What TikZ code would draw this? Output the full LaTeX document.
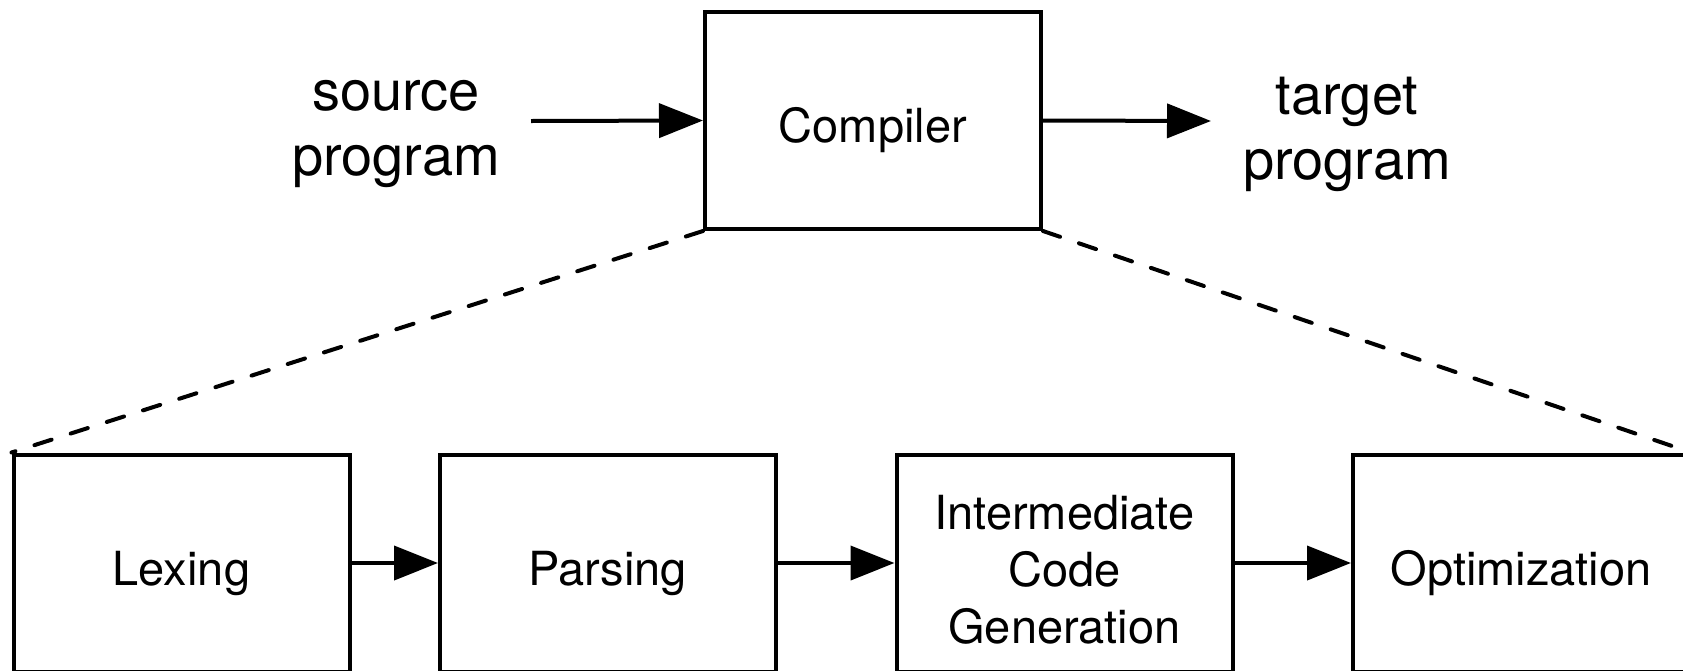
\documentclass[tikz,border=0pt]{standalone}
\usepackage{fontspec}
\setmainfont{TeX Gyre Heros}
\usetikzlibrary{arrows.meta}
\begin{document}
\begin{tikzpicture}[x=0.5pt,y=-0.5pt,
  stage/.style={draw,line width=2pt,minimum width=168pt,minimum height=108.5pt,inner sep=0pt},
  stagetext/.style={align=center,inner sep=0pt,font=\fontsize{23.5}{28.5}\selectfont},
  io/.style={align=center,inner sep=0pt,font=\fontsize{28}{32.5}\selectfont},
  flow/.style={line width=2pt,-{Triangle[length=22pt,width=17pt]}},
  zoomline/.style={line width=2pt,line cap=round,dash pattern=on 9pt off 10pt}]
\useasboundingbox (0,0) rectangle (1683,670);
\clip (0,0) rectangle (1683,670);
\node[stage] (comp) at (873,120.5) {};
\node[stagetext,anchor=base] (compT) at ([yshift=-11pt]comp.center) {Compiler};
\node[io] (src) at (396,134) {source\\program};
\node[io] (tgt) at (1347,134) {target\\program};
\coordinate (srcend) at (531,121);
\coordinate (tgtend) at (1211,121);
\node[stage] (lex) at (181.5,563) {};
\node[stage] (par) at (608,563) {};
\node[stage] (icg) at (1064.5,563) {};
\node[stage] (opt) at (1521,563) {};
\node[stagetext,anchor=base] (lexT) at ([yshift=-11pt]lex.center) {Lexing};
\node[stagetext,anchor=base] (parT) at ([yshift=-11pt]par.center) {Parsing};
\node[stagetext] (icgT) at ([yshift=-3.5pt]icg.center) {Intermediate\\Code\\Generation};
\node[stagetext,anchor=base] (optT) at ([yshift=-11pt]opt.center) {Optimization};
\draw[flow] (srcend) -- (comp.west);
\draw[flow] (comp.east) -- (tgtend);
\draw[flow] (lex.east) -- (par.west);
\draw[flow] (par.east) -- (icg.west);
\draw[flow] (icg.east) -- (opt.west);
\draw[zoomline] (comp.south west) -- (lex.north west);
\draw[zoomline] (comp.south east) -- (opt.north east);
\end{tikzpicture}
\end{document}
